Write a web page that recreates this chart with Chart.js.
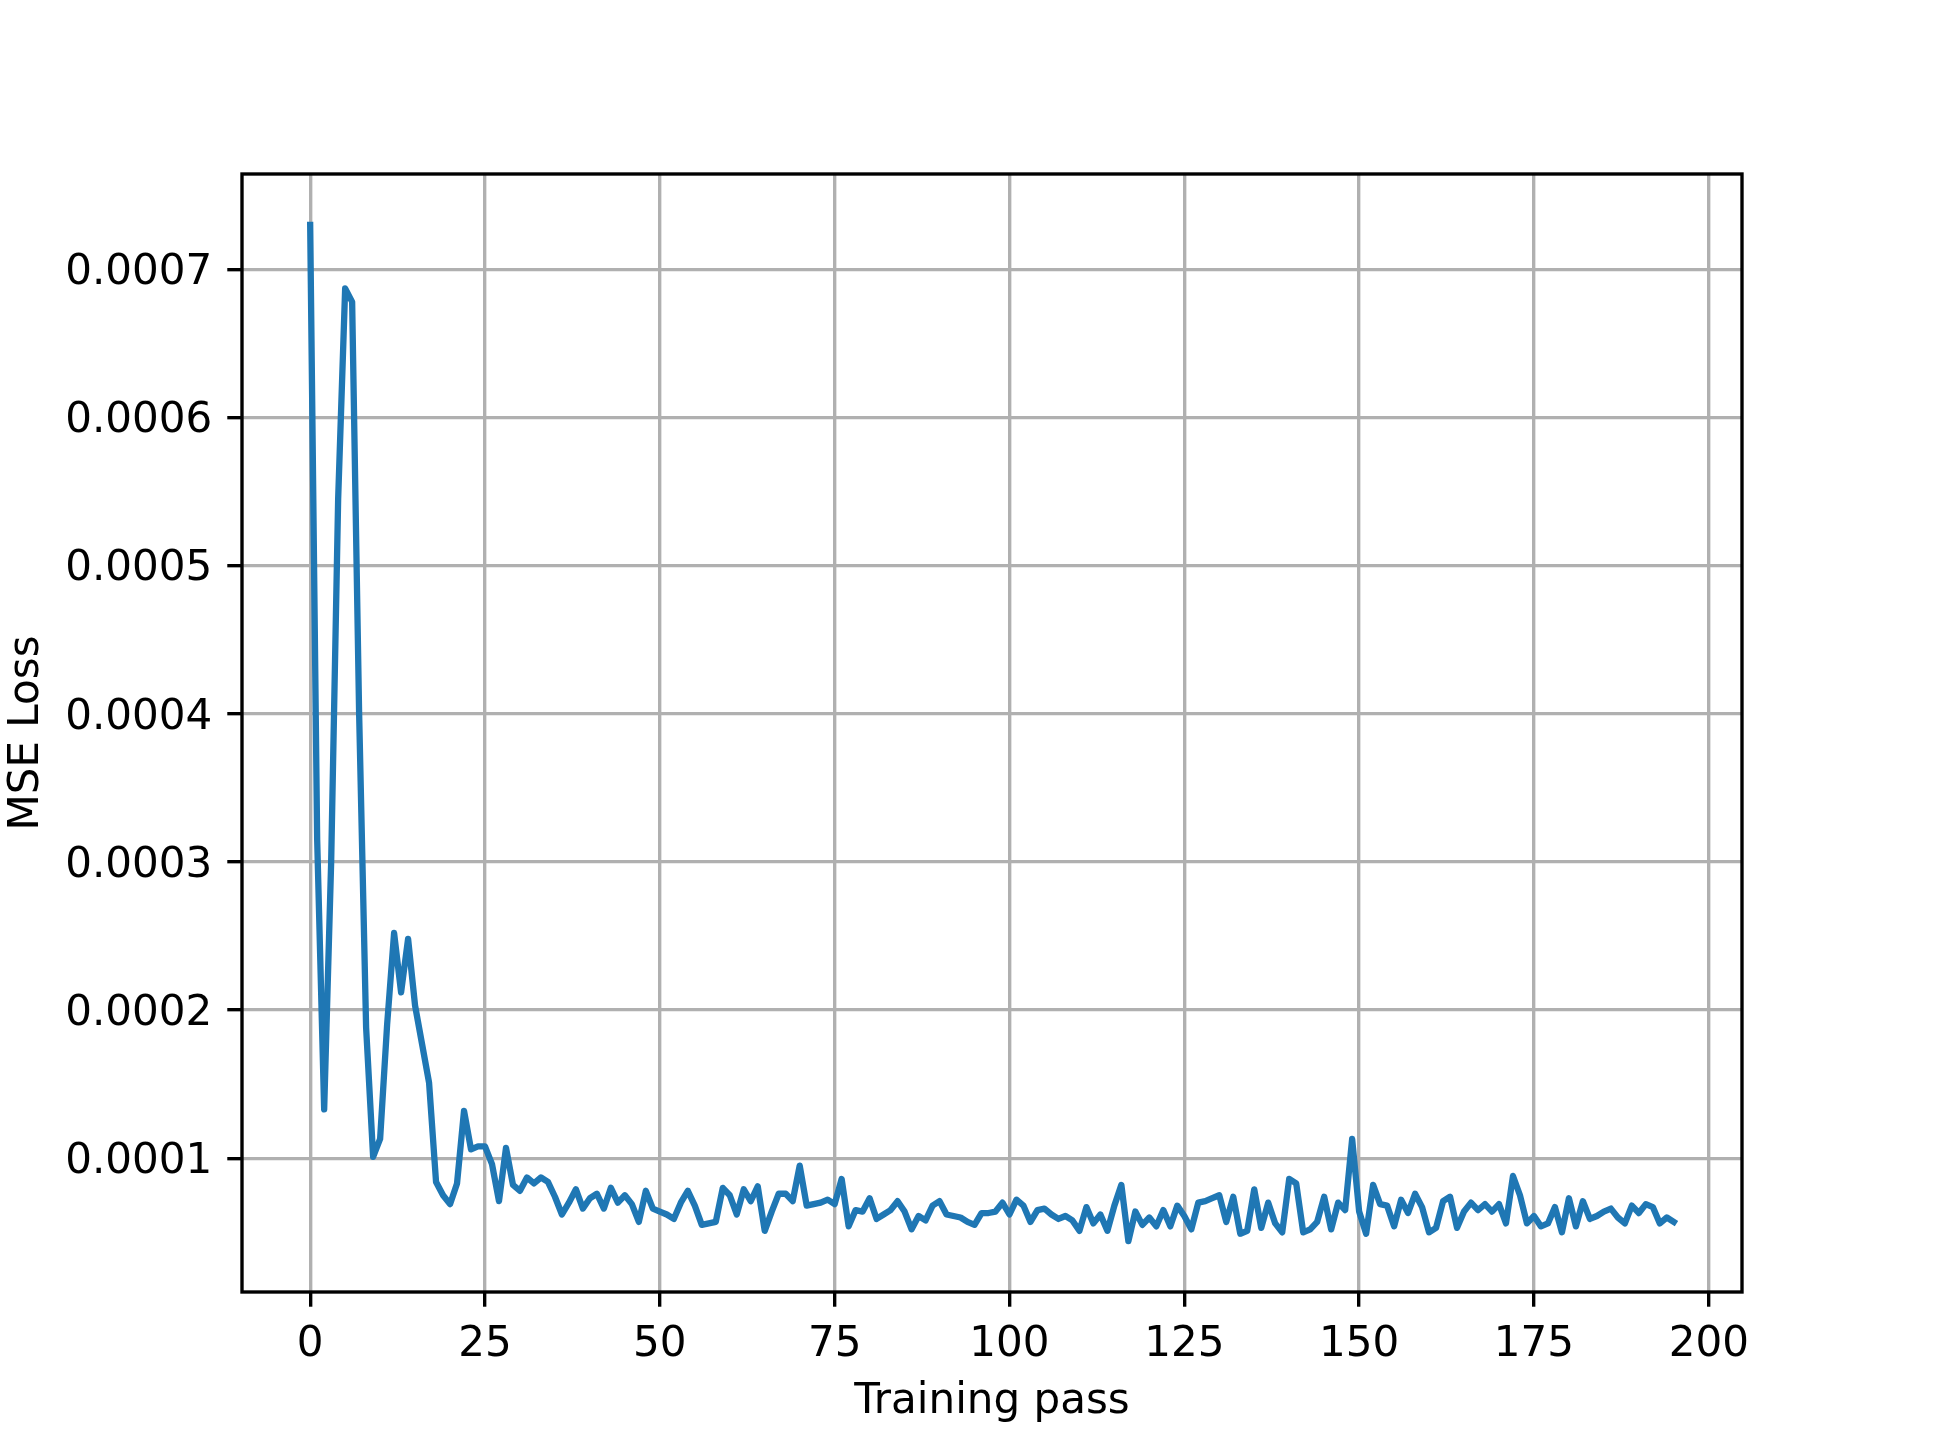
<!DOCTYPE html>
<html>
<head>
<meta charset="utf-8">
<script src="https://cdn.jsdelivr.net/npm/chart.js@4/dist/chart.umd.min.js"></script>
<style>
  body { margin: 0; background: #fff; }
  canvas { display: block; }
</style>
</head>
<body>
<canvas id="lossChart" width="1937" height="1453"></canvas>
<script>
// MSE loss per training pass
const mseLoss = [
  0.000730, 0.000315, 0.000133, 0.000300, 0.000545, 0.000687, 0.000678, 0.000400, 0.000188, 0.000101,
  0.000113, 0.000190, 0.000252, 0.000212, 0.000248, 0.000203, 0.000177, 0.000151, 0.000084, 0.000075,
  0.000069, 0.000083, 0.000132, 0.000106, 0.000108, 0.000108, 0.000096, 0.000071, 0.000107, 0.000082,
  0.000078, 0.000087, 0.000083, 0.000087, 0.000084, 0.000074, 0.000062, 0.000070, 0.000079, 0.000066,
  0.000073, 0.000076, 0.000066, 0.000080, 0.000070, 0.000075, 0.000069, 0.000057, 0.000078, 0.000066,
  0.000064, 0.000062, 0.000059, 0.000070, 0.000078, 0.000068, 0.000055, 0.000056, 0.000057, 0.000080,
  0.000075, 0.000062, 0.000079, 0.000071, 0.000081, 0.000051, 0.000064, 0.000076, 0.000076, 0.000071,
  0.000095, 0.000068, 0.000069, 0.000070, 0.000072, 0.000069, 0.000086, 0.000054, 0.000065, 0.000064,
  0.000073, 0.000059, 0.000062, 0.000065, 0.000071, 0.000064, 0.000052, 0.000061, 0.000058, 0.000068,
  0.000071, 0.000062, 0.000061, 0.000060, 0.000057, 0.000055, 0.000063, 0.000063, 0.000064, 0.000070,
  0.000062, 0.000072, 0.000068, 0.000057, 0.000065, 0.000066, 0.000062, 0.000059, 0.000061, 0.000058,
  0.000051, 0.000067, 0.000056, 0.000062, 0.000051, 0.000068, 0.000082, 0.000044, 0.000064, 0.000055,
  0.000060, 0.000054, 0.000065, 0.000054, 0.000068, 0.000061, 0.000052, 0.000070, 0.000071, 0.000073,
  0.000075, 0.000057, 0.000074, 0.000049, 0.000051, 0.000079, 0.000053, 0.000070, 0.000056, 0.000050,
  0.000086, 0.000083, 0.000050, 0.000052, 0.000057, 0.000074, 0.000052, 0.000070, 0.000065, 0.000113,
  0.000064, 0.000049, 0.000082, 0.000069, 0.000068, 0.000054, 0.000072, 0.000063, 0.000076, 0.000067,
  0.000050, 0.000053, 0.000071, 0.000074, 0.000053, 0.000064, 0.000070, 0.000065, 0.000069, 0.000064,
  0.000069, 0.000056, 0.000088, 0.000075, 0.000056, 0.000061, 0.000054, 0.000056, 0.000067, 0.000050,
  0.000073, 0.000054, 0.000071, 0.000059, 0.000061, 0.000064, 0.000066, 0.000060, 0.000056, 0.000068,
  0.000063, 0.000069, 0.000067, 0.000056, 0.000060, 0.000057
];
// training pass index for each loss value
const passes = mseLoss.map((_, i) => i);
const xTicks = [0, 25, 50, 75, 100, 125, 150, 175, 200];
const yTicks = [0.0001, 0.0002, 0.0003, 0.0004, 0.0005, 0.0006, 0.0007];

// matplotlib-like 5% margins around the data
const xSpan = passes[passes.length - 1] - passes[0];
const xMin = passes[0] - 0.05 * xSpan;
const xMax = passes[passes.length - 1] + 0.05 * xSpan;
const yLo = Math.min(...mseLoss), yHi = Math.max(...mseLoss);
const yMin = yLo - 0.05 * (yHi - yLo);
const yMax = yHi + 0.05 * (yHi - yLo);

const px = 302.7 / 72; // points -> pixels
Chart.defaults.font.family = "'DejaVu Sans', sans-serif";
Chart.defaults.font.size = 10 * px;
Chart.defaults.color = '#000';

// draws the four axes spines on top of the line
const frame = {
  id: 'frame',
  afterDatasetsDraw(chart) {
    const { ctx, chartArea: a } = chart;
    ctx.save();
    ctx.strokeStyle = '#000';
    ctx.lineWidth = 0.8 * px;
    ctx.lineJoin = 'miter';
    ctx.strokeRect(a.left, a.top, a.right - a.left, a.bottom - a.top);
    ctx.restore();
  }
};

const gridOpts = {
  color: '#b0b0b0',
  lineWidth: 0.8 * px,
  drawTicks: true,
  tickLength: 3.5 * px,
  tickColor: '#000',
  tickWidth: 0.8 * px
};

new Chart(document.getElementById('lossChart'), {
  type: 'line',
  data: {
    datasets: [{
      data: passes.map((p, i) => ({ x: p, y: mseLoss[i] })),
      borderColor: '#1f77b4',
      borderWidth: 1.5 * px,
      pointRadius: 0,
      tension: 0,
      fill: false,
      borderJoinStyle: 'round',
      borderCapStyle: 'square'
    }]
  },
  options: {
    responsive: false,
    animation: false,
    devicePixelRatio: 1,
    layout: { padding: { top: 174, right: 195, left: 0, bottom: 0 } },
    plugins: { legend: { display: false }, tooltip: { enabled: false } },
    scales: {
      x: {
        type: 'linear',
        min: xMin,
        max: xMax,
        afterBuildTicks: s => { s.ticks = xTicks.map(v => ({ value: v })); },
        afterFit: s => { s.height = 161; },
        ticks: { padding: 13, maxRotation: 0, autoSkip: false, callback: v => String(v) },
        grid: gridOpts,
        border: { display: false },
        title: { display: true, text: 'Training pass', padding: { top: 0, bottom: 26 } }
      },
      y: {
        type: 'linear',
        min: yMin,
        max: yMax,
        afterBuildTicks: s => { s.ticks = yTicks.map(v => ({ value: v })); },
        afterFit: s => { s.width = 242; },
        ticks: { padding: 15, labelOffset: 4, autoSkip: false, callback: v => v.toFixed(4) },
        grid: gridOpts,
        border: { display: false },
        title: { display: true, text: 'MSE Loss', padding: { top: 2, bottom: 0 } }
      }
    }
  },
  plugins: [frame]
});
</script>
</body>
</html>
